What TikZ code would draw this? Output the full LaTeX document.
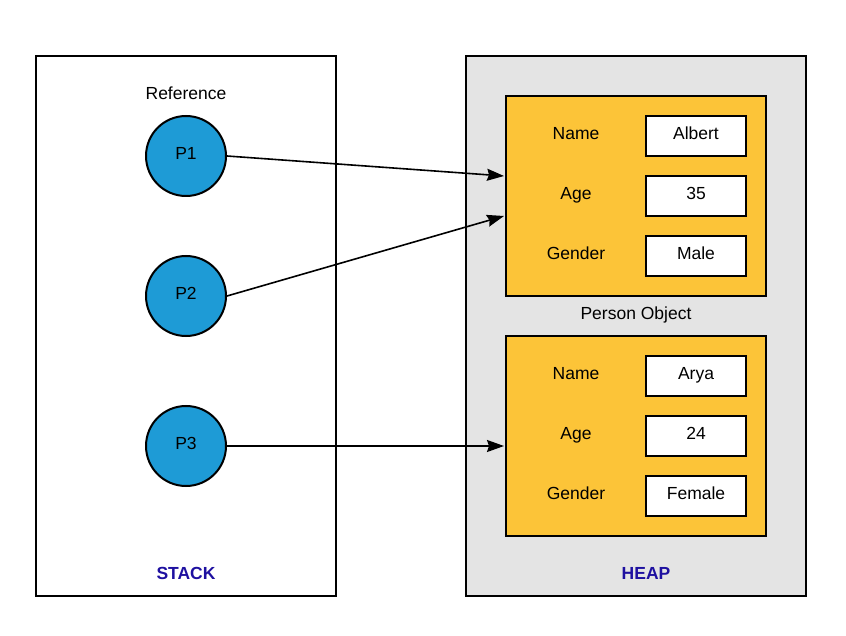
\documentclass[tikz,border=0pt]{standalone}
\usepackage{fontspec}
\setmainfont{Liberation Sans}
\usetikzlibrary{arrows.meta}
\definecolor{refblue}{RGB}{30,155,214}
\definecolor{objorange}{RGB}{252,196,56}
\definecolor{heapgray}{RGB}{228,228,228}
\definecolor{titleblue}{RGB}{30,16,160}

\begin{document}
\begin{tikzpicture}[x=1pt,y=-1pt,
    every node/.style={font=\fontsize{17.5}{20}\selectfont, inner sep=0pt, text height=12pt, text depth=5pt},
    memarea/.style={draw, line width=2pt, minimum height=540pt, minimum width=#1},
    objbox/.style={draw, line width=2pt, fill=objorange, minimum width=260pt, minimum height=200pt},
    valbox/.style={draw, line width=2pt, fill=white, minimum width=100pt, minimum height=40pt},
    refnode/.style={draw, circle, line width=2pt, fill=refblue, minimum size=80pt},
    areatitle/.style={text=titleblue, font=\fontsize{17.5}{20}\selectfont\bfseries},
    pointer/.style={line width=1.6pt, -{Stealth[length=17pt,width=12pt,inset=2pt]}}]
    \useasboundingbox (0,0) rectangle (846,636);
    % stack side
    \node[memarea=300pt] (stack) at (186,326) {};
    \node (reflabel) at (186,96) {Reference};
    \node[refnode] (p1) at (186,156) {P1};
    \node[refnode] (p2) at (186,296) {P2};
    \node[refnode] (p3) at (186,446) {P3};
    \node[areatitle] (stacklabel) at (186,576) {STACK};
    % heap side
    \node[memarea=340pt, fill=heapgray] (heap) at (636,326) {};
    \node[objbox] (obj1) at (636,196) {};
    \node[objbox] (obj2) at (636,436) {};
    \node (name1) at (576,136) {Name};
    \node (age1) at (576,196) {Age};
    \node (gender1) at (576,256) {Gender};
    \node[valbox] (nameval1) at (696,136) {Albert};
    \node[valbox] (ageval1) at (696,196) {35};
    \node[valbox] (genderval1) at (696,256) {Male};
    \node (objlabel) at (636,316) {Person Object};
    \node (name2) at (576,376) {Name};
    \node (age2) at (576,436) {Age};
    \node (gender2) at (576,496) {Gender};
    \node[valbox] (nameval2) at (696,376) {Arya};
    \node[valbox] (ageval2) at (696,436) {24};
    \node[valbox] (genderval2) at (696,496) {Female};
    \node[areatitle] (heaplabel) at (646,576) {HEAP};
    % references into the heap
    \coordinate (in1) at (504,176);
    \coordinate (in2) at (504,216);
    \coordinate (in3) at (504,446);
    \draw[pointer] (p1.east) -- (in1);
    \draw[pointer] (p2.east) -- (in2);
    \draw[pointer] (p3.east) -- (in3);
\end{tikzpicture}
\end{document}
